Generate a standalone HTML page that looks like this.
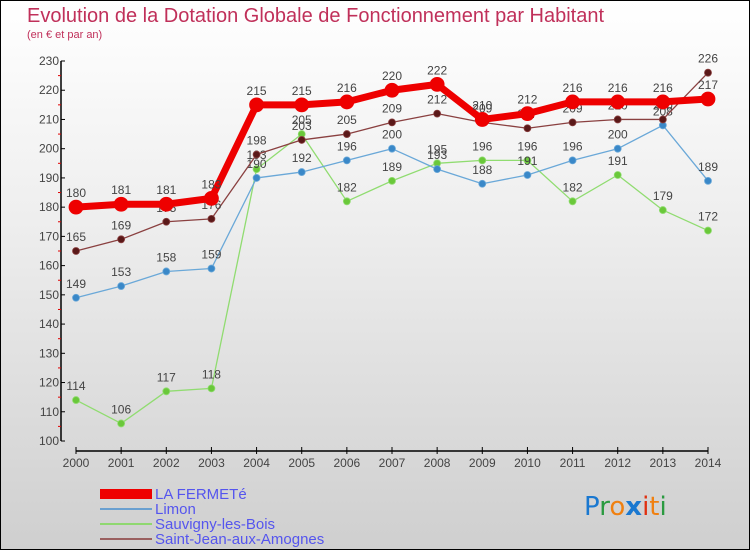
<!DOCTYPE html>
<html><head><meta charset="utf-8"><style>
html,body{margin:0;padding:0}
body{width:750px;height:550px;overflow:hidden;font-family:"Liberation Sans",sans-serif}
#wrap{position:relative;width:748px;height:548px;border:1px solid #000;background:linear-gradient(#ffffff 0%,#eeeeee 40%,#cfcfcf 100%)}
</style></head><body>
<div id="wrap">
<svg id="chart" width="748" height="548" xmlns="http://www.w3.org/2000/svg">
<text x="26" y="21" font-size="20" fill="#c0305a">Evolution de la Dotation Globale de Fonctionnement par Habitant</text>
<text x="26" y="37" font-size="11" fill="#c0305a">(en € et par an)</text>
<g id="axes"></g>
<g id="series"></g>
<g id="legend">
<rect x="99" y="488" width="52" height="10" fill="#ee0000"/>
<text x="154" y="498" font-size="15" fill="#5555ee">LA FERMETé</text>
<rect x="99" y="507" width="52" height="2" fill="#6aa0d0"/>
<text x="154" y="513" font-size="15" fill="#5555ee">Limon</text>
<rect x="99" y="522" width="52" height="2" fill="#8fd870"/>
<text x="154" y="528" font-size="15" fill="#5555ee">Sauvigny-les-Bois</text>
<rect x="99" y="537" width="52" height="2" fill="#9a6060"/>
<text x="154" y="543" font-size="15" fill="#5555ee">Saint-Jean-aux-Amognes</text>
</g>
<text x="583" y="514" font-size="26" font-family="'DejaVu Sans',sans-serif"><tspan fill="#1a78d0">P</tspan><tspan fill="#2a9a40">r</tspan><tspan fill="#f08010">o</tspan><tspan fill="#1a78d0" font-weight="bold">x</tspan><tspan fill="#e03010">i</tspan><tspan fill="#f08010">t</tspan><tspan fill="#2a9a40">i</tspan></text>
</svg>
</div>
<script>
const years = [2000,2001,2002,2003,2004,2005,2006,2007,2008,2009,2010,2011,2012,2013,2014];
const yTicks = [100,110,120,130,140,150,160,170,180,190,200,210,220,230];
const fermete = [180,181,181,183,215,215,216,220,222,210,212,216,216,216,217];
const limon = [149,153,158,159,190,192,196,200,193,188,191,196,200,208,189];
const sauvigny = [114,106,117,118,193,205,182,189,195,196,196,182,191,179,172];
const saintJean = [165,169,175,176,198,203,205,209,212,209,207,209,210,210,226];

const NS="http://www.w3.org/2000/svg";
const X0=75,X1=707,Y0=440,YT=60,VMIN=100,VMAX=230,XA=450;
function xs(i){return X0+(X1-X0)*i/(years.length-1);}
function ys(v){return Y0-(v-VMIN)*(Y0-YT)/(VMAX-VMIN);}
function mk(tag,attrs,parent){const e=document.createElementNS(NS,tag);for(const k in attrs)e.setAttribute(k,attrs[k]);parent.appendChild(e);return e;}
const axes=document.getElementById('axes');
let yl=mk('line',{x1:60,y1:YT,x2:60,y2:Y0,stroke:'#000','stroke-width':1.5},axes);


yTicks.forEach((v,i)=>{
  const y=ys(v);
  mk('line',{x1:60,y1:y,x2:64,y2:y,stroke:'#000'},axes);
  if(i<yTicks.length-1) mk('line',{x1:57,y1:ys(v+5),x2:60,y2:ys(v+5),stroke:'#e00000'},axes);
  const t=mk('text',{x:58,y:y+4,'font-size':12,fill:'#444','text-anchor':'end'},axes);
  t.textContent=v;
  
  
});
let xl=mk('line',{x1:X0,y1:XA,x2:X1,y2:XA,stroke:'#000','stroke-width':1.5},axes);


years.forEach((yr,i)=>{
  const x=xs(i);
  mk('line',{x1:x,y1:XA-4,x2:x,y2:XA+3,stroke:'#000'},axes);
  const t=mk('text',{x:x,y:466,'font-size':12,fill:'#444','text-anchor':'middle'},axes);
  t.textContent=yr;
  
  
});
const ser=document.getElementById('series');
function draw(vals,name,color,dot,w,r){
  const g=mk('g',{},ser);
  
  
  const pts=vals.map((v,i)=>xs(i)+','+ys(v)).join(' ');
  mk('polyline',{points:pts,fill:'none',stroke:color,'stroke-width':w,'stroke-linejoin':'round'},g);
  vals.forEach((v,i)=>{
    const c=mk('circle',{cx:xs(i),cy:ys(v),r:r,fill:dot,stroke:color,'stroke-width':0.8},g);
    
    
    const t=mk('text',{x:xs(i),y:ys(v)-10,'font-size':12,fill:'#444','text-anchor':'middle'},g);
    t.textContent=v;
    
    
  });
}
draw(sauvigny,'sauvigny','#90dc70','#6ac83a',1.3,3.5);
draw(limon,'limon','#6aa8d8','#3a88c8',1.3,3.5);
draw(saintJean,'saint-jean','#8a4040','#5a1818',1.3,3.5);
draw(fermete,'la-fermete','#ee0000','#ee0000',7,7);
</script>
</body></html>
